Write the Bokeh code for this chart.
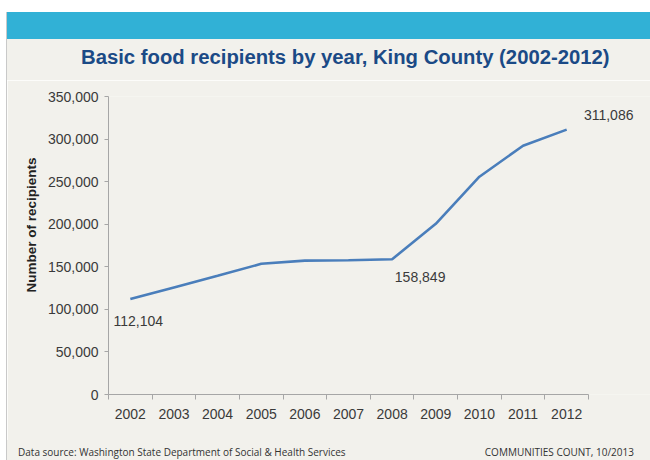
import html
from bokeh.plotting import figure
from bokeh.models import (Range1d, FixedTicker, NumeralTickFormatter, BasicTickFormatter,
                          ColumnDataSource, Title, Div, Spacer)
from bokeh.layouts import column, row
from bokeh.core.properties import value
from bokeh.embed import file_html
from bokeh.resources import INLINE

# ---- data ----
years = [2002, 2003, 2004, 2005, 2006, 2007, 2008, 2009, 2010, 2011, 2012]
recipients = [112104, 125800, 139500, 153500, 157200, 157600, 158849,
              200500, 255800, 292200, 311086]
labelled_years = [2002, 2008, 2012]
y_ticks = [0, 50000, 100000, 150000, 200000, 250000, 300000, 350000]

title_text = "Basic food recipients by year, King County (2002-2012)"
y_label_text = "Number of recipients"
source_text = "Data source: Washington State Department of Social & Health Services"
credit_text = "COMMUNITIES COUNT, 10/2013"

# ---- layout / style ----
EDGE_X = 6        # grey left edge of the slide
X0 = EDGE_X + 1   # content start
CW = 650 - X0     # content width
TOP_WHITE = 12
BAND_H = 27
HEAD_H = 68                             # band + title area
MAIN_TOP = TOP_WHITE + HEAD_H           # 80
FRAME_L, FRAME_T, FRAME_B, AXIS_R = 108, 96, 394, 588
FOOT_TOP, FOOT_H = 440, 20
MAIN_H = FOOT_TOP - MAIN_TOP
TITLE_X, TITLE_CY = 81, 57

BG = "#F2F1EC"
BAND = "#31B1D6"
EDGE = "#C9C9C9"
TITLE_C = "#1B4A86"
LINE_C = "#4A7EBB"
AXIS_C = "#A6A6A6"
TXT_C = "#3A3A3A"
FONT = "Liberation Sans"

x_lo, x_hi_axis = years[0] - 0.5, years[-1] + 0.5
px_per_x = (AXIS_R - FRAME_L) / (x_hi_axis - x_lo)
x_hi = x_lo + (650 - FRAME_L) / px_per_x

p = figure(width=CW, height=MAIN_H, output_backend="svg", toolbar_location=None,
           x_range=Range1d(x_lo, x_hi), y_range=Range1d(0, y_ticks[-1]),
           min_border_left=FRAME_L - X0, min_border_right=0,
           min_border_top=FRAME_T - MAIN_TOP, min_border_bottom=MAIN_H - (FRAME_B - MAIN_TOP),
           background_fill_color=BG, border_fill_color=BG,
           outline_line_color=None, margin=0)
p.grid.visible = False
p.title.text = ""

# axes
xa = p.xaxis[0]
xa.bounds = (x_lo, x_hi_axis)
xa.ticker = FixedTicker(ticks=years, minor_ticks=[y - 0.5 for y in years] + [years[-1] + 0.5])
xa.formatter = BasicTickFormatter(use_scientific=False)
xa.major_tick_out = 0
xa.major_tick_in = 0
xa.minor_tick_out = 5
xa.minor_tick_in = 0
xa.minor_tick_line_color = AXIS_C
xa.axis_line_color = AXIS_C
xa.major_label_standoff = 9
xa.major_label_text_font = FONT
xa.major_label_text_font_size = "14px"
xa.major_label_text_color = TXT_C

ya = p.yaxis[0]
ya.bounds = (0, y_ticks[-1])
ya.ticker = FixedTicker(ticks=y_ticks)
ya.formatter = NumeralTickFormatter(format="0,0")
ya.major_tick_out = 4
ya.major_tick_in = 0
ya.minor_tick_out = 0
ya.minor_tick_in = 0
ya.major_tick_line_color = AXIS_C
ya.axis_line_color = AXIS_C
ya.major_label_standoff = 6
ya.major_label_text_font = FONT
ya.major_label_text_font_size = "14px"
ya.major_label_text_color = TXT_C

# y axis title (placed left, starting above the frame bottom like the reference)
p.add_layout(Title(text=y_label_text, align="left", offset=FRAME_B - 292, standoff=12,
                   text_font=FONT, text_font_style="bold", text_font_size="13.5px",
                   text_color="#222222"), "left")

# line
p.line(x=years, y=recipients, line_color=LINE_C, line_width=2.6)

# data labels
lab_vals = [recipients[years.index(yr)] for yr in labelled_years]
src = ColumnDataSource(dict(x=labelled_years, y=lab_vals,
                            t=[f"{v:,}" for v in lab_vals],
                            dx=[8, 28, 42], dy=[22, 18, -15]))
p.text(x="x", y="y", text="t", x_offset="dx", y_offset="dy", source=src,
       text_align="center", text_baseline="middle",
       text_font=value(FONT), text_font_size="14px", text_color=TXT_C)

# header: blue band + title (HTML text)
title_line_h = 24
title_top = TITLE_CY - TOP_WHITE - BAND_H - title_line_h // 2
head_html = (
    f'<div style="width:{CW}px;height:{BAND_H}px;background-color:{BAND};"></div>'
    f'<div style="box-sizing:border-box;width:{CW}px;padding:{title_top}px 0 0 {TITLE_X - X0}px;'
    f"line-height:{title_line_h}px;white-space:nowrap;font-family:'{FONT}';font-weight:bold;"
    f'font-size:20.3px;color:{TITLE_C};">{html.escape(title_text)}</div>'
)
header = Div(text=head_html, width=CW, height=HEAD_H, margin=0,
             styles={"background-color": BG})

# footer strip (HTML text)
foot_html = (
    '<div style="display:flex;justify-content:space-between;box-sizing:border-box;'
    f'width:{CW}px;padding:7px 16px 0 11px;line-height:11px;white-space:nowrap;'
    "font-family:'Open Sans';font-size:10px;color:#333333;\">"
    f"<span>{html.escape(source_text)}</span><span>{html.escape(credit_text)}</span></div>"
)
footer = Div(text=foot_html, width=CW, height=FOOT_H, margin=0,
             styles={"background-color": BG})

edge = Div(width=1, height=460 - TOP_WHITE, margin=0, styles={"background-color": EDGE})

layout = row(Spacer(width=EDGE_X, height=460, margin=0),
             column(Spacer(width=1, height=TOP_WHITE, margin=0), edge, margin=0, spacing=0),
             column(Spacer(width=CW, height=TOP_WHITE, margin=0), header, p, footer,
                    margin=0, spacing=0),
             margin=0, spacing=0)

open("out.html", "w").write(file_html(layout, INLINE))
